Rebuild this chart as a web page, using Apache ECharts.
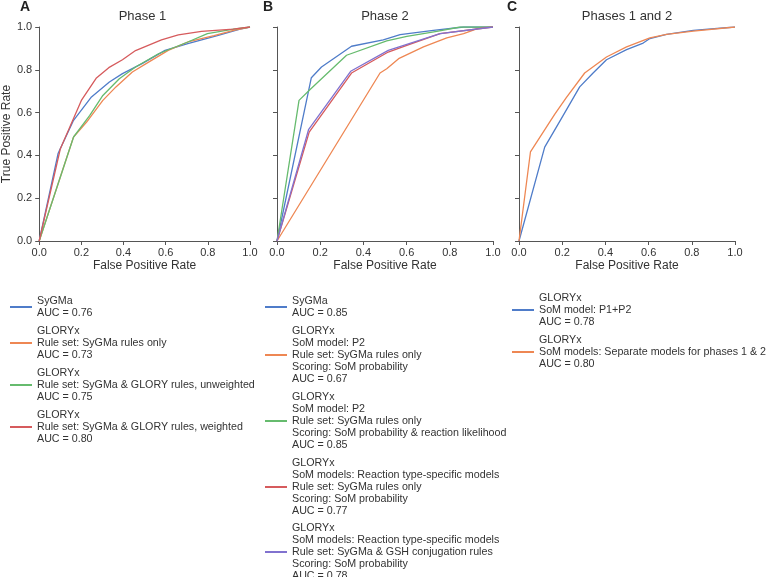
<!DOCTYPE html>
<html lang="en">
  <head>
    <meta charset="UTF-8">
    <title>ROC curves</title>
    <script src="https://cdn.jsdelivr.net/npm/echarts@6/dist/echarts.min.js"></script>
    <style>
      html, body { margin: 0; padding: 0; background: #fff; }
      #chart { width: 766px; height: 577px; }
    </style>
  </head>
  <body>
    <div id="chart"></div>
    <script>
      // ---------- data (fpr, tpr) ----------
      // Phase 1
      const p1Sygma = [[0, 0], [0.09, 0.41], [0.163, 0.564], [0.248, 0.673], [0.333, 0.743], [0.395, 0.782], [0.488, 0.829], [0.597, 0.891], [0.705, 0.922], [0.845, 0.96], [0.953, 0.99], [1, 1]]
      const p1RulesOnly = [[0, 0], [0.163, 0.486], [0.225, 0.556], [0.302, 0.657], [0.364, 0.72], [0.442, 0.79], [0.519, 0.836], [0.612, 0.891], [0.705, 0.93], [0.829, 0.96], [0.922, 0.984], [1, 1]]
      const p1Unweighted = [[0, 0], [0.163, 0.486], [0.24, 0.587], [0.302, 0.68], [0.38, 0.758], [0.457, 0.813], [0.566, 0.875], [0.705, 0.93], [0.798, 0.969], [0.922, 0.99], [1, 1]]
      const p1Weighted = [[0, 0], [0.1, 0.43], [0.2, 0.657], [0.27, 0.76], [0.33, 0.81], [0.395, 0.847], [0.457, 0.89], [0.58, 0.94], [0.66, 0.963], [0.77, 0.98], [0.92, 0.99], [1, 1]]
      // Phase 2
      const p2Sygma = [[0, 0], [0.159, 0.763], [0.206, 0.813], [0.345, 0.91], [0.492, 0.94], [0.57, 0.964], [0.724, 0.984], [0.864, 1], [1, 1]]
      const p2Prob = [[0, 0], [0.477, 0.785], [0.508, 0.805], [0.563, 0.852], [0.678, 0.907], [0.786, 0.949], [0.864, 0.969], [0.941, 0.997], [1, 1]]
      const p2ProbLikelihood = [[0, 0], [0.102, 0.657], [0.152, 0.707], [0.322, 0.868], [0.508, 0.935], [0.601, 0.956], [0.74, 0.98], [0.848, 1], [1, 1]]
      const p2TypeSpecific = [[0, 0], [0.149, 0.509], [0.345, 0.785], [0.515, 0.883], [0.601, 0.914], [0.755, 0.969], [1, 1]]
      const p2TypeSpecificGsh = [[0, 0], [0.146, 0.52], [0.341, 0.793], [0.515, 0.891], [0.601, 0.919], [0.755, 0.969], [1, 1]]
      // Phases 1 and 2
      const p12Combined = [[0, 0], [0.119, 0.439], [0.196, 0.572], [0.281, 0.72], [0.343, 0.785], [0.405, 0.847], [0.498, 0.894], [0.575, 0.925], [0.606, 0.946], [0.683, 0.966], [0.807, 0.984], [1, 1]]
      const p12Separate = [[0, 0], [0.053, 0.416], [0.165, 0.592], [0.219, 0.67], [0.304, 0.785], [0.405, 0.86], [0.498, 0.907], [0.606, 0.949], [0.683, 0.966], [0.807, 0.981], [1, 1]]

      const namesA = [
        'SyGMa\nAUC = 0.76',
        'GLORYx\nRule set: SyGMa rules only\nAUC = 0.73',
        'GLORYx\nRule set: SyGMa & GLORY rules, unweighted\nAUC = 0.75',
        'GLORYx\nRule set: SyGMa & GLORY rules, weighted\nAUC = 0.80'
      ]
      const namesB = [
        'SyGMa\nAUC = 0.85',
        'GLORYx\nSoM model: P2\nRule set: SyGMa rules only\nScoring: SoM probability\nAUC = 0.67',
        'GLORYx\nSoM model: P2\nRule set: SyGMa rules only\nScoring: SoM probability & reaction likelihood\nAUC = 0.85',
        'GLORYx\nSoM models: Reaction type-specific models\nRule set: SyGMa rules only\nScoring: SoM probability\nAUC = 0.77',
        'GLORYx\nSoM models: Reaction type-specific models\nRule set: SyGMa & GSH conjugation rules\nScoring: SoM probability\nAUC = 0.78'
      ]
      const namesC = [
        'GLORYx\nSoM model: P1+P2\nAUC = 0.78',
        'GLORYx\nSoM models: Separate models for phases 1 & 2\nAUC = 0.80'
      ]
      const panelTitles = ['Phase 1', 'Phase 2', 'Phases 1 and 2']
      const panelLetters = ['A', 'B', 'C']
      const tickLabels = ['0.0', '0.2', '0.4', '0.6', '0.8', '1.0']

      const colors = ['#4f7cc9', '#ee8753', '#66bb6e', '#d65b5d', '#8172cf']
      const FONT = 'Liberation Sans, Arial, sans-serif'

      const grids = [
        { left: 35, top: 27, width: 215, height: 214 },
        { left: 277, top: 27, width: 216, height: 214 },
        { left: 519, top: 27, width: 216, height: 214 }
      ]

      const axisStyle = {
        axisLine: { lineStyle: { color: '#555', width: 1 } },
        axisTick: { show: true, length: 4, lineStyle: { color: '#555' } },
        splitLine: { show: false }
      }

      const xAxes = grids.map((g, i) => Object.assign({
        type: 'value', gridIndex: i, min: 0, max: 1, interval: 0.2,
        name: 'False Positive Rate', nameLocation: 'middle', nameGap: 19,
        nameTextStyle: { fontFamily: FONT, fontSize: 12, color: '#333' },
        axisLabel: { fontFamily: FONT, fontSize: 11, color: '#333', margin: 6,
          formatter: v => tickLabels[Math.round(v * 5)] }
      }, axisStyle))

      const yAxes = grids.map((g, i) => Object.assign({
        type: 'value', gridIndex: i, min: 0, max: 1, interval: 0.2,
        name: i === 0 ? 'True Positive Rate' : '', nameLocation: 'middle', nameGap: 22,
        nameTextStyle: { fontFamily: FONT, fontSize: 12, color: '#333' },
        axisLabel: { show: i === 0, fontFamily: FONT, fontSize: 11, color: '#333', margin: 7,
          formatter: v => tickLabels[Math.round(v * 5)] }
      }, axisStyle))

      function line(name, data, color, idx) {
        return {
          name: name, type: 'line', data: data, xAxisIndex: idx, yAxisIndex: idx,
          showSymbol: false, symbol: 'none', smooth: false,
          lineStyle: { color: color, width: 1.3 }, itemStyle: { color: color }
        }
      }

      const series = [
        line(namesA[0], p1Sygma, colors[0], 0),
        line(namesA[1], p1RulesOnly, colors[1], 0),
        line(namesA[2], p1Unweighted, colors[2], 0),
        line(namesA[3], p1Weighted, colors[3], 0),
        line(namesB[0], p2Sygma, colors[0], 1),
        line(namesB[1], p2Prob, colors[1], 1),
        line(namesB[2], p2ProbLikelihood, colors[2], 1),
        line(namesB[3], p2TypeSpecific, colors[3], 1),
        line(namesB[4], p2TypeSpecificGsh, colors[4], 1),
        line(namesC[0], p12Combined, colors[0], 2),
        line(namesC[1], p12Separate, colors[1], 2)
      ]

      function legend(names, left, top) {
        return {
          data: names, left: left, top: top, orient: 'vertical',
          padding: 0, itemGap: 6, itemWidth: 22, itemHeight: 2, itemStyle: { borderWidth: 0 },
          icon: 'rect', selectedMode: false,
          textStyle: { fontFamily: FONT, fontSize: 10.7, lineHeight: 12, color: '#333', padding: [0, 0, 0, 0] }
        }
      }

      const graphics = []
      grids.forEach((g, i) => {
        graphics.push({
          type: 'text', x: g.left + g.width / 2, y: 16,
          style: { text: panelTitles[i], font: '13px ' + FONT, fill: '#333', textAlign: 'center', textVerticalAlign: 'middle' }
        })
      })
      const letterX = [20, 263, 507]
      panelLetters.forEach((l, i) => {
        graphics.push({
          type: 'text', x: letterX[i], y: 7,
          style: { text: l, font: 'bold 14px ' + FONT, fill: '#222', textAlign: 'left', textVerticalAlign: 'middle' }
        })
      })

      const chart = echarts.init(document.getElementById('chart'), null, { renderer: 'canvas' })
      chart.setOption({
        animation: false,
        backgroundColor: '#fff',
        grid: grids,
        xAxis: xAxes,
        yAxis: yAxes,
        // panel B's legend runs past the bottom edge, so its last entry sits in its own legend
        legend: [
          legend(namesA, 10, 295),
          legend(namesB.slice(0, 4), 265, 295),
          legend(namesB.slice(4), 265, 522),
          legend(namesC, 512, 292)
        ],
        graphic: graphics,
        series: series
      })
    </script>
  </body>
</html>
